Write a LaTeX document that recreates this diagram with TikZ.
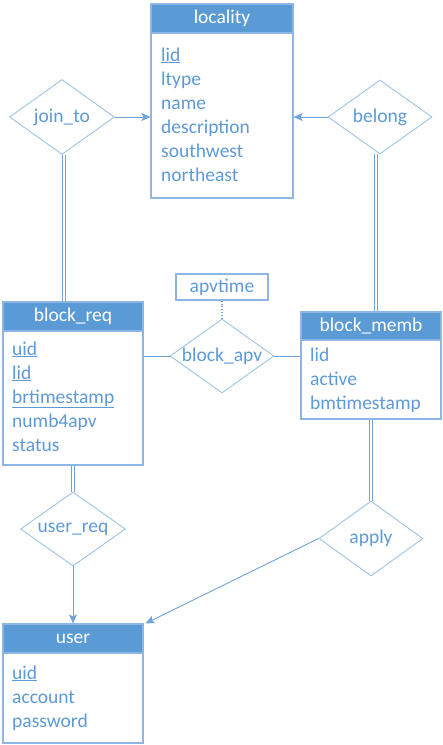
\documentclass[tikz,border=0pt]{standalone}
\usepackage{fontspec}
\setmainfont{Carlito}
\usetikzlibrary{shapes.geometric,arrows.meta}
\definecolor{hdrblue}{HTML}{5B9BD5}
\definecolor{txtblue}{HTML}{5E9AD8}
\definecolor{boxline}{HTML}{8DB6E4}
\definecolor{dialine}{HTML}{9DC3E6}
\definecolor{conline}{HTML}{6FA3DA}
\newcommand{\zw}[1]{\makebox[0pt]{#1}}
\begin{document}
\begin{tikzpicture}[x=1pt,y=-1pt,
  font=\fontsize{19.5}{24}\selectfont,
  ent/.style={draw=boxline,line width=1.2pt,rectangle,inner sep=0pt,fill=white},
  hdr/.style={fill=hdrblue,draw=boxline,line width=1.2pt,rectangle,inner sep=0pt,text=white},
  attr/.style={anchor=base west,inner sep=0pt,text=txtblue},
  rel/.style={diamond,draw=dialine,line width=0.9pt,inner sep=0pt,text=txtblue,fill=white},
  conn/.style={draw=conline,line width=0.9pt},
  arr/.style={conn,-{Stealth[length=9pt,width=8pt,inset=2pt]}},
  dbl/.style={draw=conline,double=white,double distance=1.6pt,line width=0.8pt}
]
\useasboundingbox (0,0) rectangle (443,745);

% ---------- locality ----------
\node[ent,minimum width=142,minimum height=194] (locality) at (222,101) {};
\node[hdr,minimum width=142,minimum height=29,anchor=north] (localityH) at (locality.north) {locality};
\node[attr] (l1) at (161,61) {\underline{lid}};
\node[attr] (l2) at (161,85) {ltype};
\node[attr] (l3) at (161,109) {name};
\node[attr] (l4) at (161,133) {description};
\node[attr] (l5) at (161,157) {southwest};
\node[attr] (l6) at (161,181) {northeast};

% ---------- block_req ----------
\node[ent,minimum width=140,minimum height=163] (blockreq) at (73,383.5) {};
\node[hdr,minimum width=140,minimum height=29,anchor=north] (blockreqH) at (blockreq.north) {block\_req};
\node[attr] (r1) at (12,355) {\underline{uid}};
\node[attr] (r2) at (12,379) {\underline{lid}};
\node[attr] (r3) at (12,403) {\underline{brtimestamp}};
\node[attr] (r4) at (12,427) {numb4apv};
\node[attr] (r5) at (12,451) {status};

% ---------- block_memb ----------
\node[ent,minimum width=140,minimum height=107] (blockmemb) at (371,365.5) {};
\node[hdr,minimum width=140,minimum height=28,anchor=north] (blockmembH) at (blockmemb.north) {block\_memb};
\node[attr] (m1) at (310,361) {lid};
\node[attr] (m2) at (310,385) {active};
\node[attr] (m3) at (310,409) {bmtimestamp};

% ---------- user ----------
\node[ent,minimum width=140,minimum height=119] (user) at (73,683.5) {};
\node[hdr,minimum width=140,minimum height=29,anchor=north] (userH) at (user.north) {user};
\node[attr] (u1) at (12,679) {\underline{uid}};
\node[attr] (u2) at (12,703) {account};
\node[attr] (u3) at (12,727) {password};

% ---------- apvtime ----------
\node[draw=boxline,line width=1.2pt,rectangle,inner sep=0pt,minimum width=92,minimum height=26,text=txtblue] (apvtime) at (222,287) {apvtime};

% ---------- relationships ----------
\node[rel,minimum width=105,minimum height=75] (jointo) at (62,117) {\zw{join\_to}};
\node[rel,minimum width=104,minimum height=74] (belong) at (380,117) {\zw{belong}};
\node[rel,minimum width=104,minimum height=74] (blockapv) at (222,356) {\zw{block\_apv}};
\node[rel,minimum width=105,minimum height=74] (userreq) at (73,529) {\zw{user\_req}};
\node[rel,minimum width=104,minimum height=75] (apply) at (371,538.5) {\zw{apply}};

% ---------- connectors ----------
\draw[arr] (jointo.east) -- (jointo.east -| locality.west);
\draw[arr] (belong.west) -- (belong.west -| locality.east);
\draw[dbl] (jointo.south) ++(2,0) coordinate (jt) -- (jt |- blockreq.north);
\draw[dbl] (belong.south) ++(-4,0) coordinate (bl) -- (bl |- blockmemb.north);
\draw[conn] (blockapv.west -| blockreq.east) -- (blockapv.west);
\draw[conn] (blockapv.east) -- (blockapv.east -| blockmemb.west);
\draw[conn,dotted,line width=1.2pt] (apvtime.south) -- (blockapv.north);
\draw[dbl] (blockreq.south) -- (userreq.north);
\draw[dbl] (blockmemb.south) -- (apply.north);
\draw[arr] (userreq.south) -- (user.north);
\draw[arr] (apply.west) -- ([xshift=2pt]user.north east);
\end{tikzpicture}
\end{document}
